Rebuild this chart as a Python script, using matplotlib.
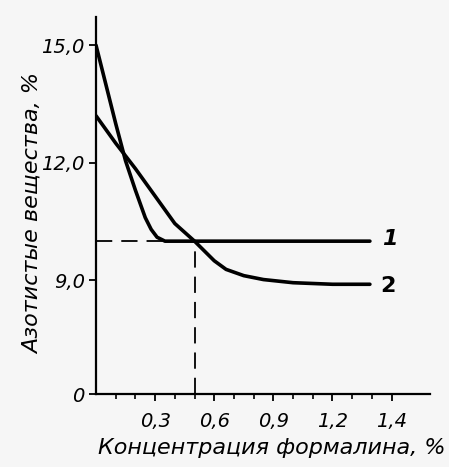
import numpy as np
import matplotlib
matplotlib.use("Agg")
import matplotlib.pyplot as plt

# curve 1 - steep drop, then flat
conc_1 = [0.0, 0.05, 0.10, 0.15, 0.20, 0.25, 0.28, 0.31, 0.35, 0.45, 0.6, 0.9, 1.2, 1.39]
nitro_1 = [15.0, 14.0, 13.0, 12.05, 11.3, 10.6, 10.3, 10.1, 10.0, 10.0, 10.0, 10.0, 10.0, 10.0]

# curve 2 - slower decay
conc_2 = [0.0, 0.1, 0.2, 0.3, 0.4, 0.5, 0.6, 0.66, 0.75, 0.85, 1.0, 1.2, 1.39]
nitro_2 = [13.2, 12.5, 11.85, 11.15, 10.45, 10.0, 9.5, 9.28, 9.12, 9.02, 8.94, 8.9, 8.9]

# optimum marked with dashed lines
opt_conc = 0.5
opt_nitro = 10.0

y_ticks = [0, 9.0, 12.0, 15.0]
y_tick_labels = ["0", "9,0", "12,0", "15,0"]
x_ticks = [0.3, 0.6, 0.9, 1.2, 1.5]
x_tick_labels = ["0,3", "0,6", "0,9", "1,2", "1,4"]

FONT = ["Liberation Sans Narrow", "DejaVu Sans"]

# y axis is compressed below ~8 (broken scale in the original)
K = 0.2375


def fwd(y):
    y = np.asarray(y, dtype=float)
    return np.where(y >= 8, y, 8 - (8 - y) * K)


def inv(u):
    u = np.asarray(u, dtype=float)
    return np.where(u >= 8, u, 8 - (8 - u) / K)


def main():
    fig = plt.figure(figsize=(4.49, 4.67), dpi=100)
    fig.patch.set_facecolor("#f6f6f6")
    ax = fig.add_axes([96 / 449, 73 / 467, 334 / 449, 377 / 467])
    ax.set_facecolor("#f6f6f6")
    ax.set_yscale("function", functions=(fwd, inv))

    ax.plot(conc_1, nitro_1, color="black", lw=2.6, solid_capstyle="round")
    ax.plot(conc_2, nitro_2, color="black", lw=2.6, solid_capstyle="round")

    ax.plot([0, opt_conc], [opt_nitro, opt_nitro], color="black", lw=1.3,
            dashes=(9, 5))
    ax.plot([opt_conc, opt_conc], [0, opt_nitro], color="black", lw=1.3,
            dashes=(9, 5))

    ax.text(1.45, nitro_1[-1] + 0.05, "1", fontsize=16, style="italic",
            weight="bold", family=FONT, va="center", ha="left")
    ax.text(1.44, nitro_2[-1] - 0.05, "2", fontsize=16, weight="bold",
            family=FONT, va="center", ha="left")

    ax.set_xlim(0, 1.695)
    ax.set_ylim(0, 15.72)

    for side in ("top", "right"):
        ax.spines[side].set_visible(False)
    for side in ("left", "bottom"):
        ax.spines[side].set_linewidth(1.6)

    ax.set_yticks(y_ticks)
    ax.set_yticklabels(y_tick_labels)
    ax.set_xticks(x_ticks)
    ax.set_xticklabels(x_tick_labels)
    ax.set_xticks(np.arange(0.1, 1.6, 0.1), minor=True)

    ax.tick_params(axis="both", which="major", direction="out", length=5,
                   width=1.3, labelsize=14, pad=3)
    ax.tick_params(axis="x", which="minor", direction="out", length=3.5,
                   width=1.2)
    ax.tick_params(axis="x", which="major", pad=8)
    for lbl in ax.get_xticklabels() + ax.get_yticklabels():
        lbl.set_family(FONT)
        lbl.set_style("italic")

    ax.set_ylabel("Азотистые вещества, %", fontsize=16, family=FONT,
                  style="italic")
    ax.yaxis.set_label_coords(-0.16, 0.48)
    ax.set_xlabel("Концентрация формалина, %", fontsize=16, family=FONT,
                  style="italic")
    ax.xaxis.set_label_coords(0.527, -0.118)

    fig.savefig("out.png", dpi=100, facecolor=fig.get_facecolor())


if __name__ == "__main__":
    main()
